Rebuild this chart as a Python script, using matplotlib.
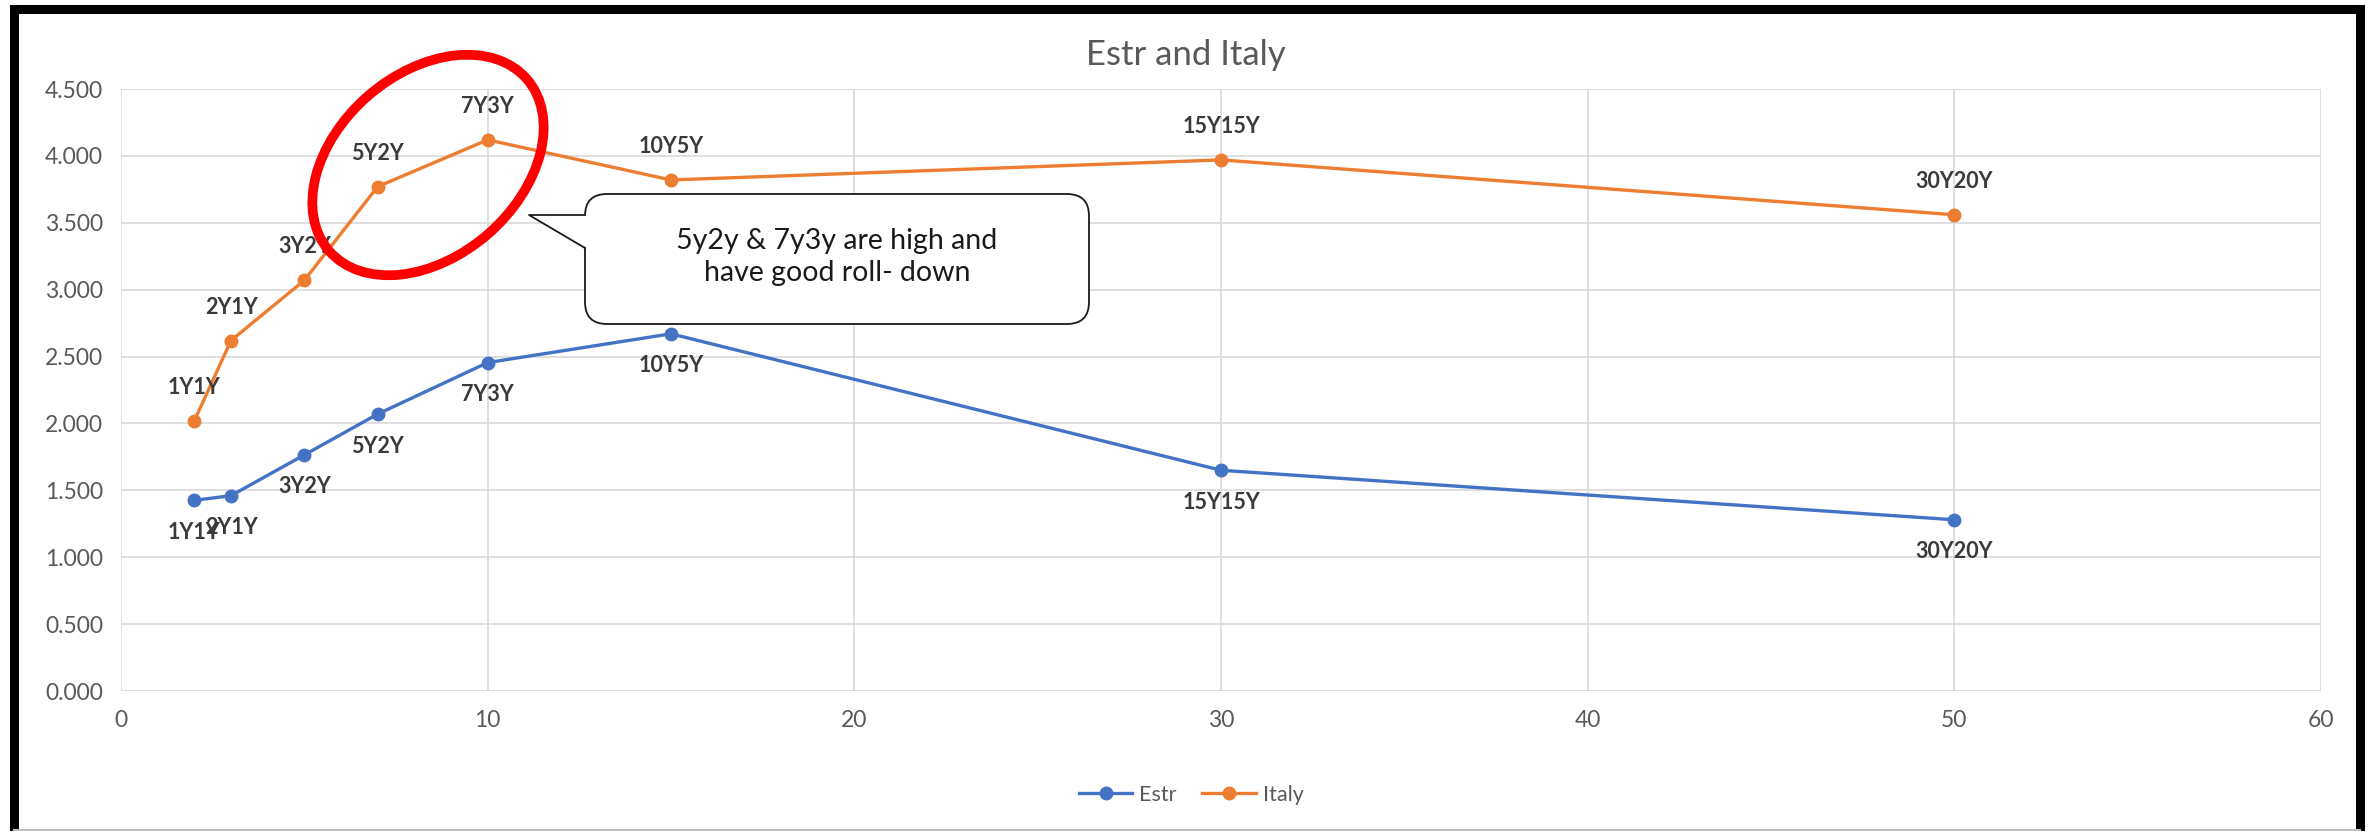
import matplotlib
matplotlib.use("Agg")
import matplotlib.pyplot as plt
from matplotlib.patches import Ellipse, FancyBboxPatch, Polygon
from matplotlib.lines import Line2D
from matplotlib.transforms import IdentityTransform
from matplotlib.ticker import FormatStrFormatter

plt.rcParams['font.family'] = ['Lato', 'DejaVu Sans']

# Forward tenors (years) and rates
tenor = [2, 3, 5, 7, 10, 15, 30, 50]
labels = ["1Y1Y", "2Y1Y", "3Y2Y", "5Y2Y", "7Y3Y", "10Y5Y", "15Y15Y", "30Y20Y"]
estr = [1.425, 1.46, 1.765, 2.07, 2.455, 2.67, 1.65, 1.28]
italy = [2.02, 2.62, 3.07, 3.77, 4.12, 3.82, 3.97, 3.56]

BLUE = "#4472C4"
ORANGE = "#ED7D31"
GREY_TXT = "#595959"
GRID = "#d9d9d9"

W, H = 2371, 831
fig = plt.figure(figsize=(W / 100, H / 100), dpi=100)
ax = fig.add_axes([121 / W, 1 - 691 / H, 2200 / W, 602 / H])

ax.plot(tenor, estr, color=BLUE, lw=2.4, marker="o", ms=9, label="Estr", zorder=3)
ax.plot(tenor, italy, color=ORANGE, lw=2.4, marker="o", ms=9, label="Italy", zorder=3)

# data labels: Italy above, Estr below
for x, y, t in zip(tenor, italy, labels):
    ax.annotate(t, (x, y), xytext=(0, 24), textcoords="offset points",
                ha="center", va="center", fontsize=15.5, fontweight="bold", color="#3a3a3a")
for x, y, t in zip(tenor, estr, labels):
    ax.annotate(t, (x, y), xytext=(0, -23), textcoords="offset points",
                ha="center", va="center", fontsize=15.5, fontweight="bold", color="#3a3a3a")

ax.set_xlim(0, 60)
ax.set_ylim(0, 4.5)
ax.set_xticks(range(0, 61, 10))
ax.set_yticks([i * 0.5 for i in range(10)])
ax.yaxis.set_major_formatter(FormatStrFormatter("%.3f"))
ax.grid(True, color=GRID, lw=1.2)
ax.set_axisbelow(True)
for s in ax.spines.values():
    s.set_visible(False)
ax.tick_params(length=0, labelsize=16.5, labelcolor=GREY_TXT)
ax.tick_params(axis="y", pad=13)
ax.tick_params(axis="x", pad=14)

fig.text(0.5, 1 - 55 / H, "Estr and Italy", ha="center", va="center",
         fontsize=25, color=GREY_TXT)

leg = fig.legend(loc="center", bbox_to_anchor=(1191 / W, 1 - 795 / H), ncol=2,
                 frameon=False, fontsize=15.5, handlelength=2.5, columnspacing=1.2,
                 handletextpad=0.3, markerscale=1.0)
for t in leg.get_texts():
    t.set_color(GREY_TXT)

# pixel-space helpers (origin bottom-left)
px = IdentityTransform()

def py(y):
    return H - y

# highlight ring around 5Y2Y / 7Y3Y
fig.patches.append(Ellipse((428, py(165)), 262, 183, angle=41, transform=px,
                           fill=False, edgecolor="#ff0000", lw=7))

# callout box with tail
x0, y0, x1, y1 = 585, 194, 1089, 324
box = FancyBboxPatch((x0, py(y1)), x1 - x0, y1 - y0,
                     boxstyle="round,pad=0,rounding_size=22", transform=px,
                     facecolor="white", edgecolor="#1a1a1a", lw=1.3, zorder=5)
fig.patches.append(box)
tail = Polygon([(x0 + 2, py(215)), (529, py(215)), (x0 + 2, py(248))], closed=True,
               transform=px, facecolor="white", edgecolor="none", zorder=6)
fig.patches.append(tail)
fig.lines.append(Line2D([x0, 529, x0], [py(215), py(215), py(248)], transform=px,
                        color="#1a1a1a", lw=1.3, zorder=7))
fig.text((x0 + x1) / 2 / W, 1 - 257 / H, "5y2y & 7y3y are high and\nhave good roll- down",
         ha="center", va="center", fontsize=20.5, color="#1a1a1a", linespacing=1.25, zorder=8)

# outer frame
fig.lines.append(Line2D([14, 14, 2360, 2360], [py(831), py(9), py(9), py(831)],
                        transform=px, color="black", lw=6.5, solid_joinstyle="miter"))
fig.lines.append(Line2D([14, 2360], [1, 1], transform=px, color="#bfbfbf", lw=1.5))

fig.savefig("out.png", dpi=100)
